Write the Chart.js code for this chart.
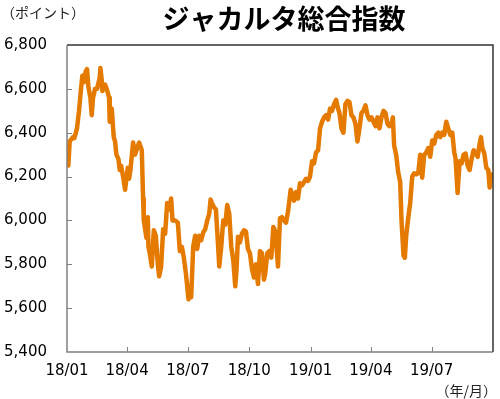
<!DOCTYPE html>
<html>
<head>
<meta charset="utf-8">
<script src="https://cdn.jsdelivr.net/npm/chart.js@4.4.1/dist/chart.umd.min.js"></script>
<style>
html,body{margin:0;padding:0;background:#fff;}
#wrap{width:500px;height:399px;position:relative;}
</style>
</head>
<body>
<div id="wrap"><canvas id="c" width="500" height="399"></canvas></div>
<script>
const titleText = 'ジャカルタ総合指数';
const yUnitText = '（ポイント）';
const xUnitText = '（年/月）';

const dates = [
'2018-01-02','2018-01-03','2018-01-05','2018-01-10','2018-01-12','2018-01-16','2018-01-19','2018-01-22','2018-01-24','2018-01-26',
'2018-01-29','2018-01-31','2018-02-02','2018-02-05','2018-02-07','2018-02-09','2018-02-12','2018-02-15','2018-02-19','2018-02-20',
'2018-02-22','2018-02-23','2018-02-27','2018-03-02','2018-03-05','2018-03-06','2018-03-09','2018-03-12','2018-03-14','2018-03-16',
'2018-03-19','2018-03-21','2018-03-23','2018-03-26','2018-03-29','2018-04-02','2018-04-04','2018-04-06','2018-04-10','2018-04-13',
'2018-04-16','2018-04-19','2018-04-23','2018-04-25','2018-04-26','2018-04-30','2018-05-02','2018-05-03','2018-05-05','2018-05-08',
'2018-05-11','2018-05-14','2018-05-17','2018-05-19','2018-05-22','2018-05-25','2018-05-28','2018-05-31','2018-06-03','2018-06-06',
'2018-06-08','2018-06-12','2018-06-16','2018-06-19','2018-06-22','2018-06-25','2018-06-28','2018-07-02','2018-07-04','2018-07-06',
'2018-07-09','2018-07-12','2018-07-15','2018-07-18','2018-07-21','2018-07-24','2018-07-27','2018-07-30','2018-08-02','2018-08-04',
'2018-08-06','2018-08-09','2018-08-12','2018-08-15','2018-08-17','2018-08-20','2018-08-23','2018-08-26','2018-08-29','2018-09-01',
'2018-09-04','2018-09-07','2018-09-10','2018-09-12','2018-09-14','2018-09-17','2018-09-20','2018-09-23','2018-09-26','2018-09-29',
'2018-10-02','2018-10-05','2018-10-08','2018-10-11','2018-10-14','2018-10-17','2018-10-20','2018-10-23','2018-10-25','2018-10-28',
'2018-10-31','2018-11-03','2018-11-06','2018-11-09','2018-11-13','2018-11-16','2018-11-19','2018-11-22','2018-11-25','2018-11-28',
'2018-12-02','2018-12-04','2018-12-07','2018-12-10','2018-12-13','2018-12-16','2018-12-19','2018-12-22','2018-12-25','2018-12-28',
'2018-12-31','2019-01-03','2019-01-06','2019-01-09','2019-01-12','2019-01-15','2019-01-18','2019-01-21','2019-01-24','2019-01-27',
'2019-01-30','2019-02-02','2019-02-05','2019-02-08','2019-02-10','2019-02-13','2019-02-16','2019-02-19','2019-02-22','2019-02-25',
'2019-02-28','2019-03-03','2019-03-06','2019-03-09','2019-03-12','2019-03-15','2019-03-18','2019-03-21','2019-03-24','2019-03-27',
'2019-03-30','2019-04-02','2019-04-05','2019-04-08','2019-04-11','2019-04-14','2019-04-17','2019-04-20','2019-04-23','2019-04-26',
'2019-04-29','2019-05-02','2019-05-04','2019-05-06','2019-05-09','2019-05-12','2019-05-15','2019-05-17','2019-05-20','2019-05-22',
'2019-05-24','2019-05-27','2019-05-30','2019-06-02','2019-06-05','2019-06-08','2019-06-11','2019-06-14','2019-06-17','2019-06-20',
'2019-06-23','2019-06-26','2019-06-29','2019-07-02','2019-07-05','2019-07-08','2019-07-11','2019-07-14','2019-07-17','2019-07-20',
'2019-07-23','2019-07-26','2019-07-29','2019-08-01','2019-08-04','2019-08-06','2019-08-09','2019-08-12','2019-08-15','2019-08-18',
'2019-08-21','2019-08-24','2019-08-27','2019-08-30','2019-09-02','2019-09-05','2019-09-08','2019-09-11','2019-09-13','2019-09-15',
'2019-09-18','2019-09-21','2019-09-24','2019-09-26','2019-09-28','2019-09-30'
];

const values = [
6290,6250,6360,6380,6375,6420,6500,6600,6660,6630,
6680,6690,6610,6560,6480,6560,6600,6600,6650,6695,
6640,6590,6620,6595,6560,6450,6510,6380,6360,6300,
6280,6230,6250,6200,6140,6240,6190,6230,6355,6300,
6330,6355,6320,6100,6000,5920,6015,5880,5850,5790,
5955,5930,5800,5745,5790,5960,5940,6080,6050,6100,
6000,6000,5990,5860,5880,5830,5760,5640,5700,5650,
5880,5930,5870,5930,5910,5945,5960,6000,6030,6095,
6080,6060,6050,5900,5790,5880,6000,5980,6070,6030,
5880,5820,5700,5780,5925,5900,5940,5955,5950,5870,
5850,5780,5740,5800,5710,5860,5850,5730,5760,5850,
5860,5830,5970,5950,5790,6010,6015,6000,5990,6040,
6140,6120,6090,6130,6100,6170,6160,6175,6190,6180,
6200,6270,6260,6310,6320,6420,6450,6470,6480,6460,
6510,6500,6530,6550,6520,6490,6420,6400,6530,6545,
6540,6480,6470,6440,6360,6420,6490,6500,6525,6480,
6460,6470,6450,6430,6470,6420,6470,6500,6490,6440,
6430,6440,6470,6340,6300,6220,6175,6000,5840,5830,
5930,6010,6080,6200,6215,6210,6215,6300,6195,6300,
6310,6330,6290,6365,6350,6390,6400,6380,6400,6390,
6450,6420,6390,6400,6310,6280,6125,6270,6260,6300,
6305,6250,6230,6280,6320,6310,6290,6350,6380,6330,
6305,6240,6230,6150,6210,6190
];

const tickDates = ['2018-01-01','2018-04-01','2018-07-01','2018-10-01','2019-01-01','2019-04-01','2019-07-01'];
const tickLabels = ['18/01','18/04','18/07','18/10','19/01','19/04','19/07'];
const startDate = '2018-01-01';
const endDate = '2019-10-01';
const yMin = 5400, yMax = 6800, yStep = 200;

function dayIndex(s){
  const p = s.split('-').map(Number);
  const t0 = startDate.split('-').map(Number);
  return Math.round((Date.UTC(p[0],p[1]-1,p[2]) - Date.UTC(t0[0],t0[1]-1,t0[2]))/86400000);
}
const points = dates.map((d,i)=>({x: dayIndex(d), y: values[i]}));
const tickPos = tickDates.map(dayIndex);

function fmt(v){ return String(v).replace(/\B(?=(\d{3})+(?!\d))/g, ','); }

const decor = {
  id:'decor',
  afterDraw(chart){
    const {ctx, chartArea:a, scales} = chart;
    ctx.save();
    ctx.strokeStyle = '#808080';
    ctx.lineWidth = 1;
    for (let v = yMin + yStep; v < yMax; v += yStep){
      const y = Math.round(scales.y.getPixelForValue(v)) + 0.5;
      ctx.beginPath(); ctx.moveTo(a.left, y); ctx.lineTo(a.left + 5, y); ctx.stroke();
    }
    tickPos.forEach((p,i)=>{
      if (i === 0) return;
      const x = Math.round(scales.x.getPixelForValue(p)) + 0.5;
      ctx.beginPath(); ctx.moveTo(x, a.bottom); ctx.lineTo(x, a.bottom - 5); ctx.stroke();
    });
    ctx.lineWidth = 1.5;
    ctx.strokeStyle = '#333333';
    ctx.beginPath(); ctx.moveTo(a.left, a.top); ctx.lineTo(a.right, a.top); ctx.lineTo(a.right, a.bottom); ctx.stroke();
    ctx.strokeStyle = '#808080';
    ctx.beginPath(); ctx.moveTo(a.left, a.top); ctx.lineTo(a.left, a.bottom); ctx.lineTo(a.right, a.bottom); ctx.stroke();
    ctx.fillStyle = '#000';
    ctx.textBaseline = 'middle';
    ctx.textAlign = 'center';
    ctx.font = 'bold 27px "Noto Sans CJK JP"';
    ctx.fillText(titleText, (a.left + a.right)/2 + 4, 19);
    ctx.fillStyle = '#222';
    ctx.font = '14px "Noto Sans CJK JP"';
    ctx.textAlign = 'left';
    ctx.fillText(yUnitText, 1, 13);
    ctx.textAlign = 'right';
    ctx.fillText(xUnitText, 497, 391);
    ctx.restore();
  }
};

new Chart(document.getElementById('c'), {
  type:'line',
  data:{ datasets:[{
    data: points,
    borderColor:'#E57A00',
    borderWidth:4.5,
    pointRadius:0,
    tension:0,
    borderJoinStyle:'round',
    borderCapStyle:'round',
    fill:false
  }]},
  options:{
    responsive:false,
    animation:false,
    layout:{padding:{top:45,right:7,left:0,bottom:0}},
    plugins:{legend:{display:false},tooltip:{enabled:false},title:{display:false}},
    scales:{
      x:{
        type:'linear',
        min: dayIndex(startDate),
        max: dayIndex(endDate),
        afterBuildTicks(s){ s.ticks = tickPos.map(v=>({value:v})); },
        afterFit(s){ s.height = 47; },
        grid:{display:false, drawTicks:false},
        border:{display:false},
        ticks:{
          padding:10,
          maxRotation:0,
          autoSkip:false,
          color:'#000',
          font:{family:'"DejaVu Sans"', size:15},
          callback(v){ const i = tickPos.indexOf(v); return i >= 0 ? tickLabels[i] : ''; }
        }
      },
      y:{
        min:yMin, max:yMax,
        afterFit(s){ s.width = 67; },
        grid:{display:false, drawTicks:false},
        border:{display:false},
        ticks:{
          stepSize:yStep,
          padding:20,
          color:'#000',
          font:{family:'"DejaVu Sans"', size:15},
          callback(v){ return fmt(v); }
        }
      }
    }
  },
  plugins:[decor]
});
</script>
</body>
</html>
